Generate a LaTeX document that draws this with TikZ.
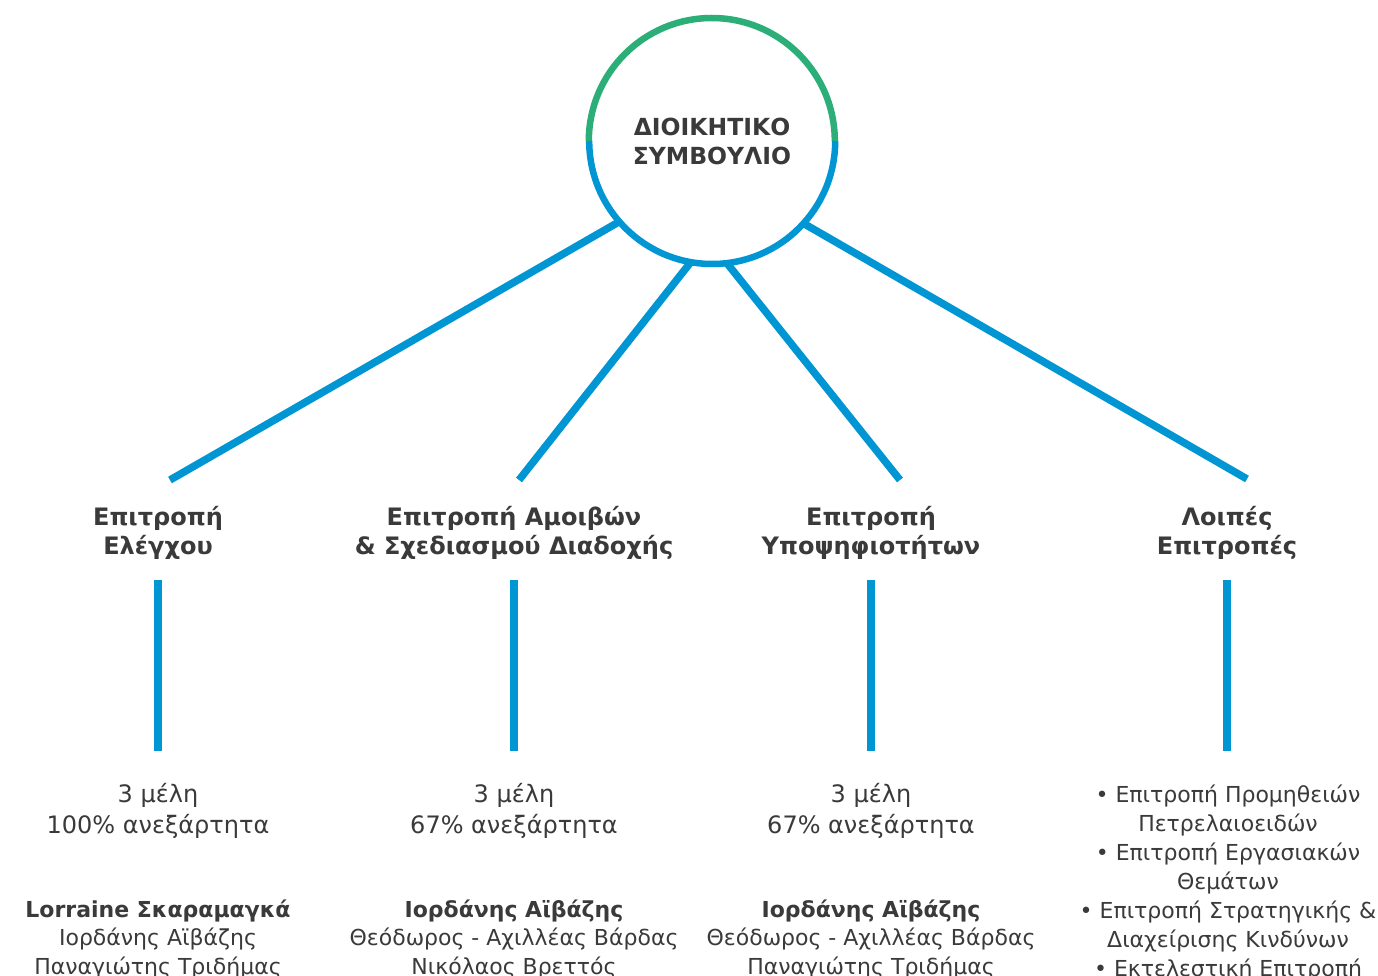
\documentclass[tikz,border=0pt]{standalone}
\usepackage{fontspec}
\setmainfont{DejaVu Sans}
\definecolor{lineblue}{HTML}{0096D4}
\definecolor{ringgreen}{HTML}{2BAE78}
\definecolor{txt}{HTML}{3A3A3A}
\begin{document}
\begin{tikzpicture}[x=1pt,y=-1pt,
  conn/.style={lineblue,line width=7.5pt},
  vline/.style={lineblue,line width=8pt},
  head/.style={align=center,text=txt,font=\fontsize{24}{29}\selectfont\bfseries,anchor=base,inner sep=0},
  body/.style={align=center,text=txt,font=\fontsize{24}{31}\selectfont,anchor=base,inner sep=0},
  names/.style={align=center,text=txt,font=\fontsize{22}{28.5}\selectfont,anchor=base,inner sep=0},
  others/.style={align=center,text=txt,font=\fontsize{22}{29}\selectfont,anchor=base,inner sep=0},
  title/.style={align=center,text=txt,font=\fontsize{23.5}{29}\selectfont\bfseries,anchor=base,inner sep=0}]
\useasboundingbox[fill=white] (0,0) rectangle (1378,976);
% circle
\node[circle,minimum size=246pt,inner sep=0] (c) at (712,141) {};
% connectors
\coordinate (e1) at (170,480);
\coordinate (e2) at (519,480);
\coordinate (e3) at (900,480);
\coordinate (e4) at (1247,479);
\draw[conn] (c.221.4) -- (e1);
\draw[conn] (c.260.2) -- (e2);
\draw[conn] (c.277) -- (e3);
\draw[conn] (c.318) -- (e4);
\draw[ringgreen,line width=6.5pt] (c.west) arc (180:360:123);
\draw[lineblue,line width=6.5pt] (c.east) arc (0:180:123);
\node[title] (t) at (712,165) {ΔΙΟΙΚΗΤΙΚΟ\\ΣΥΜΒΟΥΛΙΟ};
% headings
\node[head] (h1) at (158,554) {Επιτροπή\\Ελέγχου};
\node[head] (h2) at (514,554) {Επιτροπή Αμοιβών\\\& Σχεδιασμού Διαδοχής};
\node[head] (h3) at (871,554) {Επιτροπή\\Υποψηφιοτήτων};
\node[head] (h4) at (1227,554) {Λοιπές\\Επιτροπές};
% vertical lines
\foreach \i/\x in {1/158,2/514,3/871,4/1227}{
  \coordinate (va\i) at (\x,580);
  \coordinate (vb\i) at (\x,751);
  \draw[vline] (va\i) -- (vb\i);
}
% body
\node[body] (b1) at (158,833) {3 μέλη\\100\% ανεξάρτητα};
\node[body] (b2) at (514,833) {3 μέλη\\67\% ανεξάρτητα};
\node[body] (b3) at (871,833) {3 μέλη\\67\% ανεξάρτητα};
\node[names] (n1) at (158,974) {\textbf{Lorraine Σκαραμαγκά}\\Ιορδάνης Αϊβάζης\\Παναγιώτης Τριδήμας};
\node[names] (n2) at (514,974) {\textbf{Ιορδάνης Αϊβάζης}\\Θεόδωρος - Αχιλλέας Βάρδας\\Νικόλαος Βρεττός};
\node[names] (n3) at (871,974) {\textbf{Ιορδάνης Αϊβάζης}\\Θεόδωρος - Αχιλλέας Βάρδας\\Παναγιώτης Τριδήμας};
\node[others] (n4) at (1228,976) {• Επιτροπή Προμηθειών\\Πετρελαιοειδών\\• Επιτροπή Εργασιακών\\Θεμάτων\\• Επιτροπή Στρατηγικής \&\\Διαχείρισης Κινδύνων\\• Εκτελεστική Επιτροπή};
\end{tikzpicture}
\end{document}
